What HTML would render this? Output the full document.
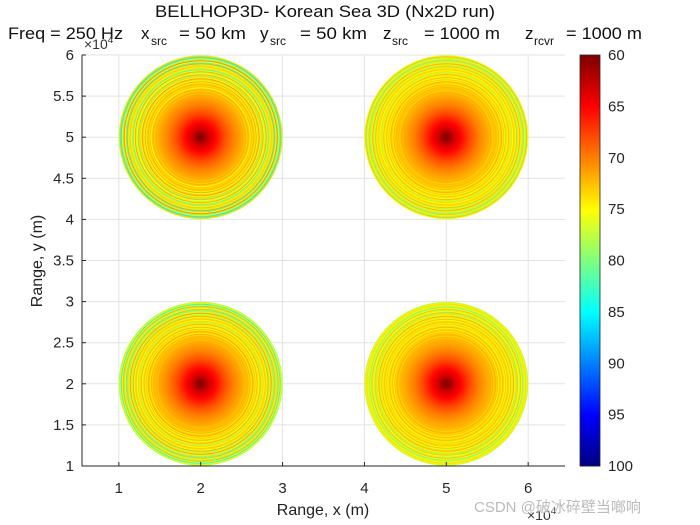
<!DOCTYPE html>
<html><head><meta charset="utf-8"><style>
body{margin:0;background:#fff;}
svg{display:block;font-family:"Liberation Sans","Noto Sans CJK SC",sans-serif;}
text{white-space:pre;}
</style></head><body>
<svg id="c" width="700" height="525" viewBox="0 0 700 525">
<text x="155" y="17" font-size="17" textLength="340" lengthAdjust="spacingAndGlyphs" fill="#111">BELLHOP3D- Korean Sea 3D (Nx2D run)</text>
<g font-size="17" fill="#111">
<text x="8" y="39" textLength="115" lengthAdjust="spacingAndGlyphs">Freq = 250 Hz</text>
<text x="141" y="39">x</text><text x="151" y="45" font-size="12">src</text>
<text x="179" y="39" textLength="67" lengthAdjust="spacingAndGlyphs">= 50 km</text>
<text x="260" y="39">y</text><text x="270" y="45" font-size="12">src</text>
<text x="300" y="39" textLength="67" lengthAdjust="spacingAndGlyphs">= 50 km</text>
<text x="383" y="39">z</text><text x="392" y="45" font-size="12">src</text>
<text x="424" y="39" textLength="76" lengthAdjust="spacingAndGlyphs">= 1000 m</text>
<text x="525" y="39">z</text><text x="534" y="45" font-size="12">rcvr</text>
<text x="566" y="39" textLength="76" lengthAdjust="spacingAndGlyphs">= 1000 m</text>
</g>
<g id="grid"></g>
<g id="fields"></g>
<g id="axes"></g>
<g id="cbar"></g>
<text x="84" y="49" font-size="14" fill="#333">×10<tspan font-size="10" dy="-6">4</tspan></text>
<text x="527" y="520" font-size="14" fill="#333">×10<tspan font-size="10" dy="-6">4</tspan></text>
<text x="323" y="515" font-size="16" text-anchor="middle" fill="#222">Range, x (m)</text>
<text x="0" y="0" font-size="16" text-anchor="middle" fill="#222" transform="translate(42,261) rotate(-90)">Range, y (m)</text>
<text x="474" y="512" font-size="15" fill="#bbb">CSDN @破冰碎壁当啷响</text>
</svg>
<script>
const xTicks=[1,2,3,4,5,6];
const yTicks=[1,1.5,2,2.5,3,3.5,4,4.5,5,5.5,6];
const centersX=[2,5,2,5];
const centersY=[5,5,2,2];
const radius=1;
const noiseAmp=[10,6,8,6];
const profR=[0,0.05,0.1,0.2,0.3,0.4,0.5,0.6,0.7,0.8,0.9,1.0];
const profV=[60,61,63,65.5,68,70,71.5,72.5,73,73.5,74,74.5];
const ringOffsets=[0,5,-3,9,1,-4,6,0,11,-2,3,7,-3,2,12,0,4,-1];
const cbTicks=[60,65,70,75,80,85,90,95,100];
const X0=82,X1=565,Y0=466,Y1=55,xmin=0.55,xmax=6.45,ymin=1,ymax=6;
const sx=v=>X0+(v-xmin)/(xmax-xmin)*(X1-X0);
const sy=v=>Y0-(v-ymin)/(ymax-ymin)*(Y0-Y1);
const NS="http://www.w3.org/2000/svg";
function mk(t,a,p){const e=document.createElementNS(NS,t);for(const k in a)e.setAttribute(k,a[k]);p.appendChild(e);return e;}
function jet(v){let t=(100-v)/40;t=Math.max(0,Math.min(1,t));const c=x=>Math.round(255*Math.max(0,Math.min(1,x)));
return `rgb(${c(1.5-Math.abs(4*t-3))},${c(1.5-Math.abs(4*t-2))},${c(1.5-Math.abs(4*t-1))})`;}
function prof(f){for(let i=1;i<profR.length;i++){if(f<=profR[i]){const u=(f-profR[i-1])/(profR[i]-profR[i-1]);return profV[i-1]+u*(profV[i]-profV[i-1]);}}return profV[profV.length-1];}
const grid=document.getElementById('grid');
xTicks.forEach(v=>{const l=mk('line',{x1:sx(v),x2:sx(v),y1:Y1,y2:Y0,stroke:'#e3e3e3'},grid);

});
yTicks.forEach(v=>{const l=mk('line',{x1:X0,x2:X1,y1:sy(v),y2:sy(v),stroke:'#e3e3e3'},grid);

});
const fields=document.getElementById('fields');
centersX.forEach((cx,i)=>{
  const g=mk('g',{},fields);
  
  
  const px=sx(cx),py=sy(centersY[i]),Rp=sx(cx+radius)-px;
  for(let r=Math.round(Rp);r>0;r--){const f=r/Rp;let v=prof(f);
    if(f>0.5){const w=(f-0.5)/0.5;v+=ringOffsets[(r+i*3)%ringOffsets.length]/10*noiseAmp[i]*w;}
    mk('circle',{cx:px,cy:py,r:r,fill:jet(v)},g);}
});
const ax=document.getElementById('axes');
mk('path',{d:`M${X0} ${Y1}V${Y0}H${X1}`,stroke:'#262626',fill:'none'},ax);
xTicks.forEach(v=>{mk('line',{x1:sx(v),x2:sx(v),y1:Y0,y2:Y0-4,stroke:'#262626'},ax);
const t=mk('text',{x:sx(v),y:Y0+27,'font-size':15,'text-anchor':'middle',fill:'#262626'},ax);t.textContent=v;

});
yTicks.forEach(v=>{mk('line',{x1:X0,x2:X0+4,y1:sy(v),y2:sy(v),stroke:'#262626'},ax);
const t=mk('text',{x:X0-8,y:sy(v)+5,'font-size':15,'text-anchor':'end',fill:'#262626'},ax);t.textContent=v;

});
const cb=document.getElementById('cbar');
const C0=580,C1=600;
for(let y=Y1;y<Y0;y++){const v=60+(y-Y1)/(Y0-Y1)*40;mk('rect',{x:C0,y:y,width:C1-C0,height:1.5,fill:jet(v)},cb);}
mk('rect',{x:C0,y:Y1,width:C1-C0,height:Y0-Y1,fill:'none',stroke:'#262626','stroke-width':0.8},cb);
cbTicks.forEach(v=>{const y=Y1+(v-60)/40*(Y0-Y1);
const t=mk('text',{x:608,y:y+5,'font-size':15,fill:'#262626'},cb);t.textContent=v;

});
</script>
</body></html>
